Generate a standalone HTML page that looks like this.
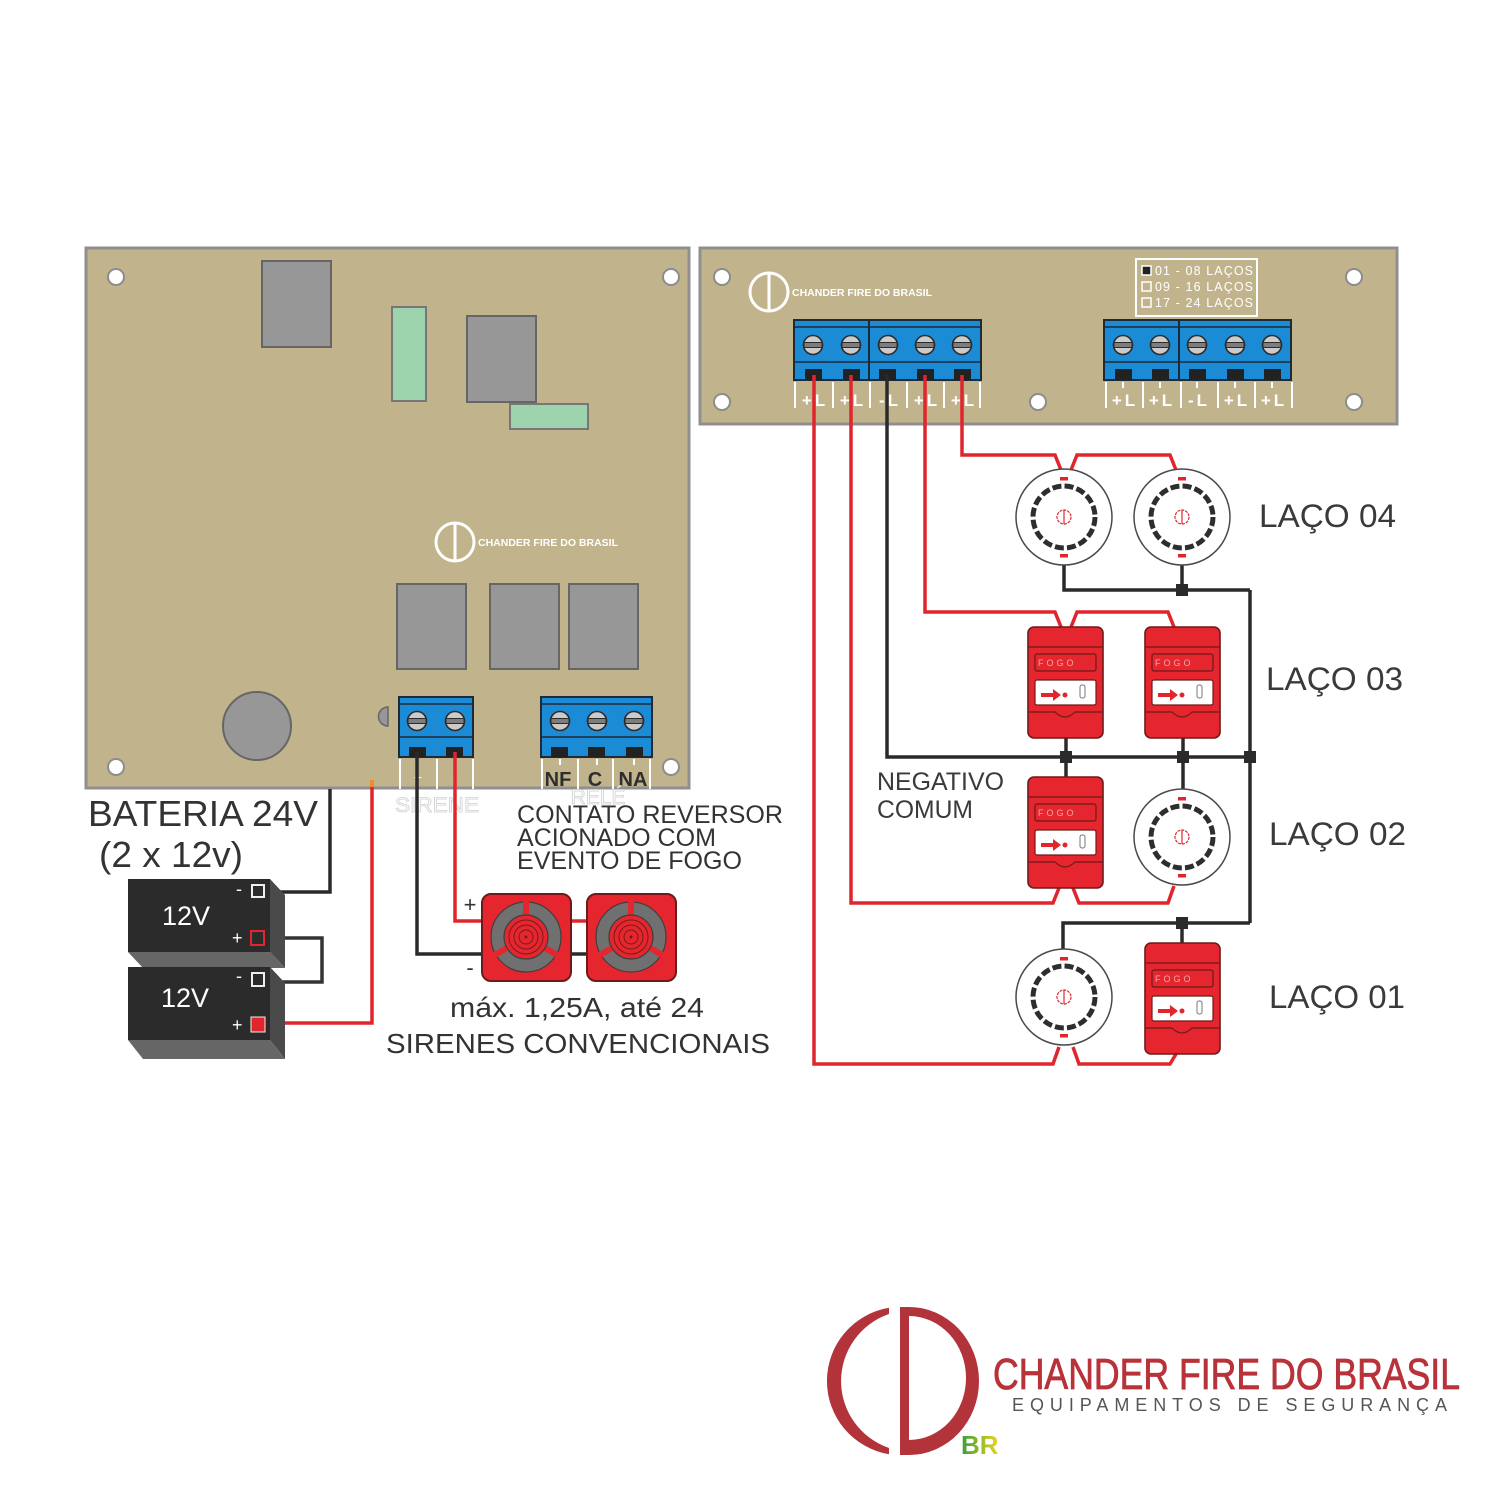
<!DOCTYPE html>
<html><head><meta charset="utf-8"><style>
html,body{margin:0;padding:0;background:#fff;}
svg{display:block;}
text{font-family:"Liberation Sans",Arial,sans-serif;}
</style></head><body>
<svg width="1512" height="1512" viewBox="0 0 1512 1512" xmlns="http://www.w3.org/2000/svg">
<defs>
 <g id="screw">
  <circle r="9.5" fill="#cbcbcb" stroke="#2b2b2b" stroke-width="1.6"/>
  <rect x="-9" y="-2.5" width="18" height="5" fill="#7d7d7d" stroke="#2b2b2b" stroke-width="1"/>
 </g>
 <g id="det">
  <circle r="48" fill="#fff" stroke="#4a4a4a" stroke-width="1.5"/>
  <circle r="31" fill="none" stroke="#2e2e2e" stroke-width="5" stroke-dasharray="9 3.2"/>
  <rect x="-4" y="-40" width="8" height="3.5" fill="#e2252d"/>
  <rect x="-4" y="37" width="8" height="3.5" fill="#e2252d"/>
  <circle r="7" fill="none" stroke="#e2252d" stroke-width="1.2" stroke-dasharray="3 1"/>
  <line x1="0" y1="-7" x2="0" y2="7" stroke="#e2252d" stroke-width="1.2"/>
 </g>
 <g id="cp">
  <rect x="0" y="0" width="75" height="111" rx="6" fill="#e5262e" stroke="#6e1a1a" stroke-width="1.6"/>
  <line x1="0" y1="20" x2="75" y2="20" stroke="#6e1a1a" stroke-width="1.2"/>
  <rect x="7" y="27" width="61" height="17" rx="2" fill="none" stroke="#6e1a1a" stroke-width="1.2"/>
  <rect x="7" y="53" width="61" height="25" rx="2" fill="#fff" stroke="#6e1a1a" stroke-width="1.2"/>
  <path d="M13 68 H26" stroke="#e2252d" stroke-width="4"/>
  <path d="M25 62 L33 68 L25 74 Z" fill="#e2252d"/>
  <circle cx="37" cy="68" r="2.5" fill="#e2252d"/>
  <rect x="52" y="58" width="5" height="13" rx="2" fill="none" stroke="#777" stroke-width="1"/>
  <path d="M0 85 H27 Q37 95 47 85 H75" fill="none" stroke="#6e1a1a" stroke-width="1.2"/>
 </g>
 <g id="siren">
  <rect x="-44" y="-43" width="89" height="87" rx="9" fill="#e5262e" stroke="#6b1b1b" stroke-width="2"/>
  <circle r="35" fill="#707070" stroke="#3e3e3e" stroke-width="1.2"/>
  <rect x="-3" y="-36" width="6" height="15" fill="#e5262e"/>
  <rect x="-3" y="-36" width="6" height="15" fill="#e5262e" transform="rotate(120)"/>
  <rect x="-3" y="-36" width="6" height="15" fill="#e5262e" transform="rotate(240)"/>
  <circle r="22" fill="#e5262e" stroke="#3e3e3e" stroke-width="1.2"/>
  <circle r="17" fill="none" stroke="#7a1a1a" stroke-width="1"/>
  <circle r="12" fill="none" stroke="#7a1a1a" stroke-width="1"/>
  <circle r="7" fill="none" stroke="#7a1a1a" stroke-width="1"/>
  <circle r="1.5" fill="#7a1a1a"/>
 </g>
 <g id="hole"><circle r="8" fill="#fff" stroke="#8c8c8c" stroke-width="2"/></g>
 <linearGradient id="brg" x1="0" y1="0" x2="1" y2="0">
  <stop offset="0" stop-color="#3a9e3a"/><stop offset="1" stop-color="#ead61e"/>
 </linearGradient>
</defs>

<!-- LEFT BOARD -->
<rect x="86" y="248" width="603" height="540" fill="#c1b48c" stroke="#8f8f8f" stroke-width="3"/>
<use href="#hole" x="116" y="277"/><use href="#hole" x="671" y="277"/>
<use href="#hole" x="116" y="767"/><use href="#hole" x="671" y="767"/>
<rect x="262" y="261" width="69" height="86" fill="#979797" stroke="#666" stroke-width="2"/>
<rect x="392" y="307" width="34" height="94" fill="#9dd3ad" stroke="#777" stroke-width="2"/>
<rect x="467" y="316" width="69" height="86" fill="#979797" stroke="#666" stroke-width="2"/>
<rect x="510" y="404" width="78" height="25" fill="#9dd3ad" stroke="#777" stroke-width="2"/>
<circle cx="455" cy="542" r="19" fill="none" stroke="#fff" stroke-width="3"/>
<line x1="455" y1="523" x2="455" y2="561" stroke="#fff" stroke-width="3"/>
<text x="478" y="546" font-size="10" font-weight="bold" fill="#fff" textLength="140" lengthAdjust="spacingAndGlyphs">CHANDER FIRE DO BRASIL</text>
<rect x="397" y="584" width="69" height="85" fill="#979797" stroke="#666" stroke-width="2"/>
<rect x="490" y="584" width="69" height="85" fill="#979797" stroke="#666" stroke-width="2"/>
<rect x="569" y="584" width="69" height="85" fill="#979797" stroke="#666" stroke-width="2"/>
<circle cx="257" cy="726" r="34" fill="#979797" stroke="#666" stroke-width="2"/>
<path d="M388 707 A9.5 9.5 0 0 0 388 726 Z" fill="#979797" stroke="#666" stroke-width="1.5"/>

<!-- sirene terminal -->
<rect x="399" y="697" width="74" height="60" fill="#1b8bd5" stroke="#1e2a36" stroke-width="2"/>
<line x1="399" y1="704" x2="473" y2="704" stroke="#1e2a36" stroke-width="1.5"/>
<line x1="399" y1="737" x2="473" y2="737" stroke="#1e2a36" stroke-width="1.5"/>
<use href="#screw" x="417" y="721"/><use href="#screw" x="455" y="721"/>
<rect x="409" y="747" width="17" height="10" fill="#222"/>
<rect x="446" y="747" width="17" height="10" fill="#222"/>
<g stroke="#fff" stroke-width="2">
 <line x1="400" y1="759" x2="400" y2="789"/><line x1="437" y1="759" x2="437" y2="789"/><line x1="473" y1="759" x2="473" y2="789"/>
</g>
<text x="418" y="782" font-size="14" fill="#fff" text-anchor="middle">+</text>
<text x="455" y="782" font-size="14" fill="#fff" text-anchor="middle">-</text>

<!-- relay terminal -->
<rect x="541" y="697" width="111" height="60" fill="#1b8bd5" stroke="#1e2a36" stroke-width="2"/>
<line x1="541" y1="704" x2="652" y2="704" stroke="#1e2a36" stroke-width="1.5"/>
<line x1="541" y1="737" x2="652" y2="737" stroke="#1e2a36" stroke-width="1.5"/>
<use href="#screw" x="560" y="721"/><use href="#screw" x="597" y="721"/><use href="#screw" x="634" y="721"/>
<rect x="551" y="747" width="17" height="10" fill="#222"/>
<rect x="588" y="747" width="17" height="10" fill="#222"/>
<rect x="626" y="747" width="17" height="10" fill="#222"/>
<g stroke="#fff" stroke-width="2">
 <line x1="542" y1="759" x2="542" y2="789"/><line x1="578" y1="759" x2="578" y2="789"/>
 <line x1="613" y1="759" x2="613" y2="789"/><line x1="650" y1="759" x2="650" y2="789"/>
 <line x1="560" y1="759" x2="560" y2="765"/><line x1="597" y1="759" x2="597" y2="765"/><line x1="634" y1="759" x2="634" y2="765"/>
</g>
<g font-size="20" font-weight="bold" fill="#2e2e2e" text-anchor="middle">
 <text x="558" y="786">NF</text><text x="595" y="786">C</text><text x="633" y="786">NA</text>
</g>
<text x="437" y="812" font-size="21" fill="#fff" stroke="#d0d0d0" stroke-width="0.8" text-anchor="middle" textLength="84" lengthAdjust="spacingAndGlyphs">SIRENE</text>
<text x="598" y="804" font-size="21" fill="#fff" stroke="#d0d0d0" stroke-width="0.8" text-anchor="middle">RELÉ</text>

<!-- RIGHT BOARD -->
<rect x="700" y="248" width="697" height="176" fill="#c1b48c" stroke="#8f8f8f" stroke-width="3"/>
<use href="#hole" x="722" y="277"/><use href="#hole" x="1354" y="277"/>
<use href="#hole" x="722" y="402"/><use href="#hole" x="1038" y="402"/><use href="#hole" x="1354" y="402"/>
<circle cx="769" cy="292" r="19" fill="none" stroke="#fff" stroke-width="3"/>
<line x1="769" y1="273" x2="769" y2="311" stroke="#fff" stroke-width="3"/>
<text x="792" y="296" font-size="10" font-weight="bold" fill="#fff" textLength="140" lengthAdjust="spacingAndGlyphs">CHANDER FIRE DO BRASIL</text>
<rect x="1136" y="259" width="121" height="57" fill="none" stroke="#fff" stroke-width="2"/>
<rect x="1142" y="266" width="9" height="9" fill="#222" stroke="#fff" stroke-width="1.5"/>
<rect x="1142" y="282" width="9" height="9" fill="none" stroke="#fff" stroke-width="1.5"/>
<rect x="1142" y="298" width="9" height="9" fill="none" stroke="#fff" stroke-width="1.5"/>
<g font-size="12.5" fill="#fff">
 <text x="1155" y="275" textLength="98">01 - 08 LAÇOS</text>
 <text x="1155" y="291" textLength="98">09 - 16 LAÇOS</text>
 <text x="1155" y="307" textLength="98">17 - 24 LAÇOS</text>
</g>

<!-- right terminal block A -->
<rect x="794" y="320" width="187" height="60" fill="#1b8bd5" stroke="#1e2a36" stroke-width="2"/>
<line x1="794" y1="327" x2="981" y2="327" stroke="#1e2a36" stroke-width="1.5"/>
<line x1="794" y1="362" x2="981" y2="362" stroke="#1e2a36" stroke-width="1.5"/>
<line x1="869" y1="320" x2="869" y2="380" stroke="#1e2a36" stroke-width="2"/>
<use href="#screw" x="813" y="345"/><use href="#screw" x="851" y="345"/><use href="#screw" x="888" y="345"/><use href="#screw" x="925" y="345"/><use href="#screw" x="962" y="345"/>
<g fill="#222">
 <rect x="805" y="369" width="17" height="11"/><rect x="843" y="369" width="17" height="11"/><rect x="879" y="369" width="17" height="11"/><rect x="917" y="369" width="17" height="11"/><rect x="954" y="369" width="17" height="11"/>
</g>
<!-- right terminal block B -->
<rect x="1104" y="320" width="187" height="60" fill="#1b8bd5" stroke="#1e2a36" stroke-width="2"/>
<line x1="1104" y1="327" x2="1291" y2="327" stroke="#1e2a36" stroke-width="1.5"/>
<line x1="1104" y1="362" x2="1291" y2="362" stroke="#1e2a36" stroke-width="1.5"/>
<line x1="1179" y1="320" x2="1179" y2="380" stroke="#1e2a36" stroke-width="2"/>
<use href="#screw" x="1123" y="345"/><use href="#screw" x="1160" y="345"/><use href="#screw" x="1197" y="345"/><use href="#screw" x="1235" y="345"/><use href="#screw" x="1272" y="345"/>
<g fill="#222">
 <rect x="1115" y="369" width="17" height="11"/><rect x="1152" y="369" width="17" height="11"/><rect x="1189" y="369" width="17" height="11"/><rect x="1227" y="369" width="17" height="11"/><rect x="1264" y="369" width="17" height="11"/>
</g>
<g stroke="#fff" stroke-width="2">
 <line x1="795" y1="382" x2="795" y2="408"/><line x1="833" y1="382" x2="833" y2="408"/><line x1="870" y1="382" x2="870" y2="408"/>
 <line x1="907" y1="382" x2="907" y2="408"/><line x1="944" y1="382" x2="944" y2="408"/><line x1="980" y1="382" x2="980" y2="408"/>
 <line x1="1106" y1="382" x2="1106" y2="408"/><line x1="1143" y1="382" x2="1143" y2="408"/><line x1="1181" y1="382" x2="1181" y2="408"/>
 <line x1="1218" y1="382" x2="1218" y2="408"/><line x1="1255" y1="382" x2="1255" y2="408"/><line x1="1292" y1="382" x2="1292" y2="408"/>
 <line x1="1123" y1="382" x2="1123" y2="388"/><line x1="1160" y1="382" x2="1160" y2="388"/><line x1="1197" y1="382" x2="1197" y2="388"/>
 <line x1="1235" y1="382" x2="1235" y2="388"/><line x1="1272" y1="382" x2="1272" y2="388"/>
</g>
<g font-size="17" font-weight="bold" fill="#fff" text-anchor="middle" letter-spacing="3">
 <text x="815" y="406">+L</text><text x="853" y="406">+L</text><text x="890" y="406">-L</text><text x="927" y="406">+L</text><text x="964" y="406">+L</text>
 <text x="1125" y="406">+L</text><text x="1162" y="406">+L</text><text x="1199" y="406">-L</text><text x="1237" y="406">+L</text><text x="1274" y="406">+L</text>
</g>

<!-- WIRES right side -->
<g fill="none" stroke="#e1252d" stroke-width="3.5" stroke-linejoin="miter">
 <path d="M962 375 V455 H1055 L1061 470 M1071 470 L1077 455 H1170 L1176 470"/>
 <path d="M925 375 V612 H1055 L1061 627 M1071 627 L1077 612 H1168 L1174 627"/>
 <path d="M851 375 V903 H1053 L1059 888 M1073 888 L1079 903 H1168 L1174 886"/>
 <path d="M814 375 V1064 H1053 L1059 1047 M1073 1047 L1079 1064 H1170 L1176 1054"/>
</g>
<g fill="none" stroke="#2a2a2a" stroke-width="3.5">
 <path d="M887 375 V757 H1250"/>
 <path d="M1250 590 V923"/>
 <path d="M1064 565 V590 H1250"/>
 <path d="M1182 565 V590"/>
 <path d="M1066 738 V778"/>
 <path d="M1183 738 V790"/>
 <path d="M1250 923 H1063 V950"/>
 <path d="M1182 923 V943"/>
</g>
<g fill="#2a2a2a">
 <rect x="1176" y="584" width="12" height="12"/>
 <rect x="1060" y="751" width="12" height="12"/>
 <rect x="1177" y="751" width="12" height="12"/>
 <rect x="1244" y="751" width="12" height="12"/>
 <rect x="1176" y="917" width="12" height="12"/>
</g>

<!-- devices -->
<use href="#det" x="1064" y="517"/><use href="#det" x="1182" y="517"/>
<use href="#cp" x="1028" y="627"/><use href="#cp" x="1145" y="627"/>
<use href="#cp" x="1028" y="777"/><use href="#det" x="1182" y="837"/>
<use href="#det" x="1064" y="997"/><use href="#cp" x="1145" y="943"/>
<g font-size="9" fill="#f2a6a6" letter-spacing="3">
 <text x="1038" y="666">FOGO</text><text x="1155" y="666">FOGO</text>
 <text x="1038" y="816">FOGO</text><text x="1155" y="982">FOGO</text>
</g>

<!-- labels right -->
<g font-size="32" fill="#3a3a3a">
 <text x="1259" y="527" textLength="137" lengthAdjust="spacingAndGlyphs">LAÇO 04</text>
 <text x="1266" y="690" textLength="137" lengthAdjust="spacingAndGlyphs">LAÇO 03</text>
 <text x="1269" y="845" textLength="137" lengthAdjust="spacingAndGlyphs">LAÇO 02</text>
 <text x="1269" y="1008" textLength="136" lengthAdjust="spacingAndGlyphs">LAÇO 01</text>
</g>
<g font-size="25" fill="#3a3a3a">
 <text x="877" y="790" textLength="127" lengthAdjust="spacingAndGlyphs">NEGATIVO</text>
 <text x="877" y="818" textLength="96" lengthAdjust="spacingAndGlyphs">COMUM</text>
</g>

<!-- LEFT WIRES -->
<g fill="none" stroke-width="3.5">
 <path d="M417 752 V954 H590" stroke="#2a2a2a"/>
 <path d="M455 752 V921 H590" stroke="#e1252d"/>
 <path d="M330 789 V892 H266" stroke="#2a2a2a"/>
 <path d="M265 938 H322 V982 H265" stroke="#333"/>
 <path d="M372 787 V1023 H266" stroke="#e1252d"/>
</g>
<rect x="370" y="780" width="4" height="7" fill="#f08a2a"/>

<!-- sirens -->
<use href="#siren" x="526" y="937"/>
<use href="#siren" x="631" y="937"/>
<text x="470" y="912" font-size="22" fill="#333" text-anchor="middle">+</text>
<text x="470" y="975" font-size="22" fill="#333" text-anchor="middle">-</text>

<!-- batteries -->
<rect x="128" y="879" width="142" height="73" fill="#2b2b2b"/>
<polygon points="270,879 285,895 285,968 270,952" fill="#4a4a4a"/>
<polygon points="128,952 270,952 285,968 143,968" fill="#666"/>
<rect x="128" y="967" width="142" height="73" fill="#2b2b2b"/>
<polygon points="270,967 285,983 285,1059 270,1040" fill="#4a4a4a"/>
<polygon points="128,1040 270,1040 285,1059 143,1059" fill="#666"/>
<g font-size="27" fill="#fff">
 <text x="162" y="925">12V</text>
 <text x="161" y="1007">12V</text>
</g>
<g font-size="18" fill="#fff">
 <text x="236" y="895">-</text><text x="232" y="944">+</text>
 <text x="236" y="982">-</text><text x="232" y="1031">+</text>
</g>
<rect x="252" y="885" width="12" height="12" fill="#2b2b2b" stroke="#eee" stroke-width="2"/>
<rect x="251" y="931" width="13" height="14" fill="#2b2b2b" stroke="#e1252d" stroke-width="2"/>
<rect x="252" y="973" width="12" height="13" fill="#2b2b2b" stroke="#eee" stroke-width="2"/>
<rect x="251" y="1017" width="14" height="15" fill="#e1252d" stroke="#eee" stroke-width="1"/>

<!-- left texts -->
<g fill="#333">
 <text x="88" y="826" font-size="36" textLength="230" lengthAdjust="spacingAndGlyphs">BATERIA 24V</text>
 <text x="99" y="867" font-size="36" textLength="144" lengthAdjust="spacingAndGlyphs">(2 x 12v)</text>
 <g font-size="25">
  <text x="517" y="823" textLength="266" lengthAdjust="spacingAndGlyphs">CONTATO REVERSOR</text>
  <text x="517" y="846" textLength="199" lengthAdjust="spacingAndGlyphs">ACIONADO COM</text>
  <text x="517" y="869" textLength="225" lengthAdjust="spacingAndGlyphs">EVENTO DE FOGO</text>
 </g>
 <text x="450" y="1017" font-size="28" textLength="254" lengthAdjust="spacingAndGlyphs">máx. 1,25A, até 24</text>
 <text x="386" y="1053" font-size="28" textLength="384" lengthAdjust="spacingAndGlyphs">SIRENES CONVENCIONAIS</text>
</g>

<!-- BOTTOM LOGO -->
<path d="M889 1307.8 A74.2 74.2 0 0 0 889 1454.2 L889 1448 A70.8 70.8 0 0 1 889 1314 Z" fill="#b3333b"/>
<path fill-rule="evenodd" d="M900 1307 H909 A70 74 0 0 1 909 1455 H900 Z M909 1316 A57 62 0 0 1 909 1440 Z" fill="#b3333b"/>
<text x="961" y="1454" font-size="26" font-weight="bold" fill="url(#brg)">BR</text>
<text x="993" y="1389" font-size="44" fill="#b8323a" stroke="#b8323a" stroke-width="0.8" textLength="467" lengthAdjust="spacingAndGlyphs">CHANDER FIRE DO BRASIL</text>
<text x="1012" y="1411" font-size="18" fill="#555" textLength="435" lengthAdjust="spacing">EQUIPAMENTOS DE SEGURANÇA</text>
</svg>
</body></html>
